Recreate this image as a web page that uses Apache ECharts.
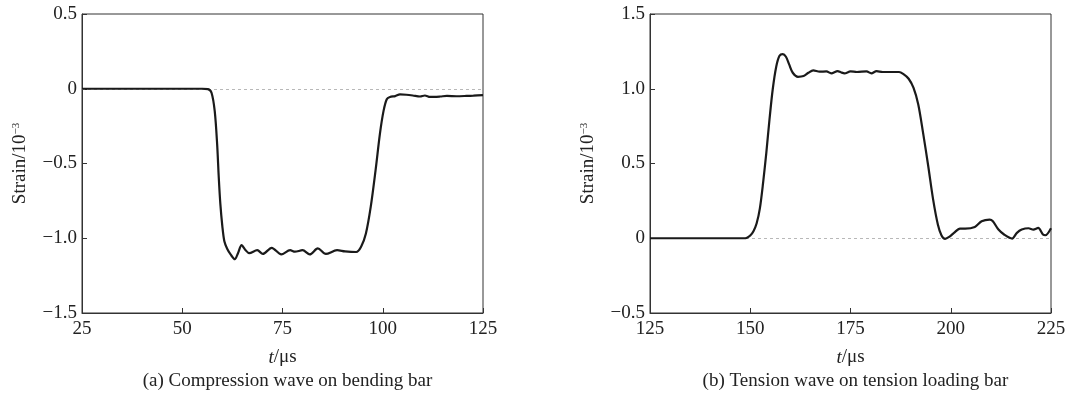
<!DOCTYPE html>
<html>
<head>
<meta charset="utf-8">
<script src="https://cdn.jsdelivr.net/npm/echarts@6/dist/echarts.min.js"></script>
<style>html,body{margin:0;padding:0;background:#fff}#c{width:1085px;height:396px}</style>
</head>
<body>
<div id="c"></div>
<script>
// (a) Compression wave on bending bar
const leftT = [25,40,55,56.4,57.3,58.1,58.7,59.1,59.5,60.0,60.5,61.2,62.1,63.1,63.9,64.8,65.8,66.7,68.7,70.1,72.3,74.7,76.9,78.1,80.0,81.8,83.8,85.8,88.6,90.6,93.4,94.6,95.8,97.0,98.2,99.3,100.2,101.0,101.8,103.1,104.3,105.9,107.5,109.3,110.5,111.8,114.3,116,118.4,120.9,122.6,125];
const leftV = [0,0,0,-0.002,-0.027,-0.15,-0.37,-0.59,-0.77,-0.92,-1.02,-1.07,-1.11,-1.14,-1.10,-1.046,-1.08,-1.10,-1.08,-1.105,-1.064,-1.108,-1.08,-1.09,-1.08,-1.108,-1.068,-1.105,-1.08,-1.088,-1.092,-1.057,-0.968,-0.79,-0.547,-0.30,-0.148,-0.07,-0.055,-0.049,-0.038,-0.04,-0.045,-0.052,-0.045,-0.055,-0.052,-0.048,-0.05,-0.048,-0.046,-0.042];
// (b) Tension wave on tension loading bar
const rightT = [125,140,148.4,149.2,150,150.8,151.6,152.4,153.2,154.0,154.8,155.6,156.5,157.3,158.1,158.9,159.7,160.6,161.9,163.3,164.5,165.7,167.3,169.0,170.2,171.8,172.6,173.5,175.0,176.6,179.0,180.2,181.5,183.0,185.5,187.1,188.3,189.5,190.7,191.9,193.1,194.4,195.6,196.8,197.7,198.6,199.6,200.8,202.3,203.6,206.0,207.7,209.7,210.5,211.9,213.3,215.3,216.5,217.7,219.4,220.6,221.8,223.0,223.6,225];
const rightV = [0,0,0,0.004,0.018,0.047,0.10,0.20,0.37,0.57,0.795,0.995,1.15,1.22,1.232,1.214,1.163,1.107,1.08,1.085,1.107,1.123,1.114,1.116,1.103,1.118,1.11,1.103,1.116,1.112,1.116,1.103,1.118,1.112,1.112,1.112,1.096,1.067,1.007,0.895,0.705,0.48,0.26,0.09,0.018,-0.004,0.009,0.036,0.065,0.065,0.076,0.114,0.125,0.114,0.058,0.025,-0.002,0.036,0.058,0.067,0.058,0.069,0.025,0.02,0.067];

const captions = ['(a) Compression wave on bending bar', '(b) Tension wave on tension loading bar'];
const xName = '{i|t}/μs';
const yName = 'Strain/10{sup|−3}';
const xRanges = [[25,125],[125,225]];
const yRanges = [[-1.5,0.5],[-0.5,1.5]];

const FONT = 'Liberation Serif';
const TXT = '#222';
const AX = '#333';
const FS = 19;

function pair(t, v){ return t.map((x,i)=>[x, v[i]]); }
function yFmt(v){
  if (Math.abs(v) < 1e-9) return '0';
  return v.toFixed(1).replace('-', '−');
}

const grids = [
  {left: 82, top: 14, width: 401, height: 299},
  {left: 650, top: 14, width: 401, height: 299}
];

const chart = echarts.init(document.getElementById('c'), null, {renderer: 'canvas'});
const option = {
  backgroundColor: '#fff',
  animation: false,
  title: captions.map((c,i)=>({
    text: c,
    left: grids[i].left + grids[i].width/2,
    textAlign: 'center',
    top: 367,
    textStyle: {fontFamily: FONT, fontSize: FS, fontWeight: 'normal', color: TXT}
  })),
  grid: grids.map(g=>Object.assign({show: true, borderColor: AX, borderWidth: 1, containLabel: false}, g)),
  xAxis: xRanges.map((r,i)=>({
    type: 'value', gridIndex: i, min: r[0], max: r[1], interval: 25,
    name: xName, nameLocation: 'middle', nameGap: 35,
    nameTextStyle: {fontFamily: FONT, fontSize: FS, color: TXT, rich: {i: {fontStyle: 'italic', fontFamily: FONT, fontSize: FS, color: TXT}}},
    axisLine: {show: true, onZero: false, lineStyle: {color: AX, width: 1}},
    axisTick: {show: true, inside: true, length: 5, lineStyle: {color: AX}},
    axisLabel: {fontFamily: FONT, fontSize: FS, color: TXT, margin: 7},
    splitLine: {show: false}
  })),
  yAxis: yRanges.map((r,i)=>({
    type: 'value', gridIndex: i, min: r[0], max: r[1], interval: 0.5,
    name: yName, nameLocation: 'middle', nameGap: 52, nameRotate: 90,
    nameTextStyle: {fontFamily: FONT, fontSize: FS, color: TXT, rich: {sup: {fontFamily: FONT, fontSize: 11, color: TXT, verticalAlign: 'top', lineHeight: 11, padding: [0,0,7,0]}}},
    axisLine: {show: true, onZero: false, lineStyle: {color: AX, width: 1}},
    axisTick: {show: true, inside: true, length: 5, lineStyle: {color: AX}},
    axisLabel: {fontFamily: FONT, fontSize: FS, color: TXT, margin: 5, formatter: yFmt},
    splitLine: {show: false}
  })),
  series: [[leftT,leftV],[rightT,rightV]].map((d,i)=>({
    type: 'line', xAxisIndex: i, yAxisIndex: i,
    data: pair(d[0], d[1]),
    showSymbol: false, symbol: 'none', smooth: 0.3,
    lineStyle: {color: '#1a1a1a', width: 2.2},
    z: 5,
    markLine: {
      silent: true, symbol: 'none', label: {show: false},
      lineStyle: {color: '#b8b8b8', type: [3,3], width: 1},
      data: [{yAxis: 0}],
      z: 1
    }
  }))
};
chart.setOption(option);
</script>
</body>
</html>
